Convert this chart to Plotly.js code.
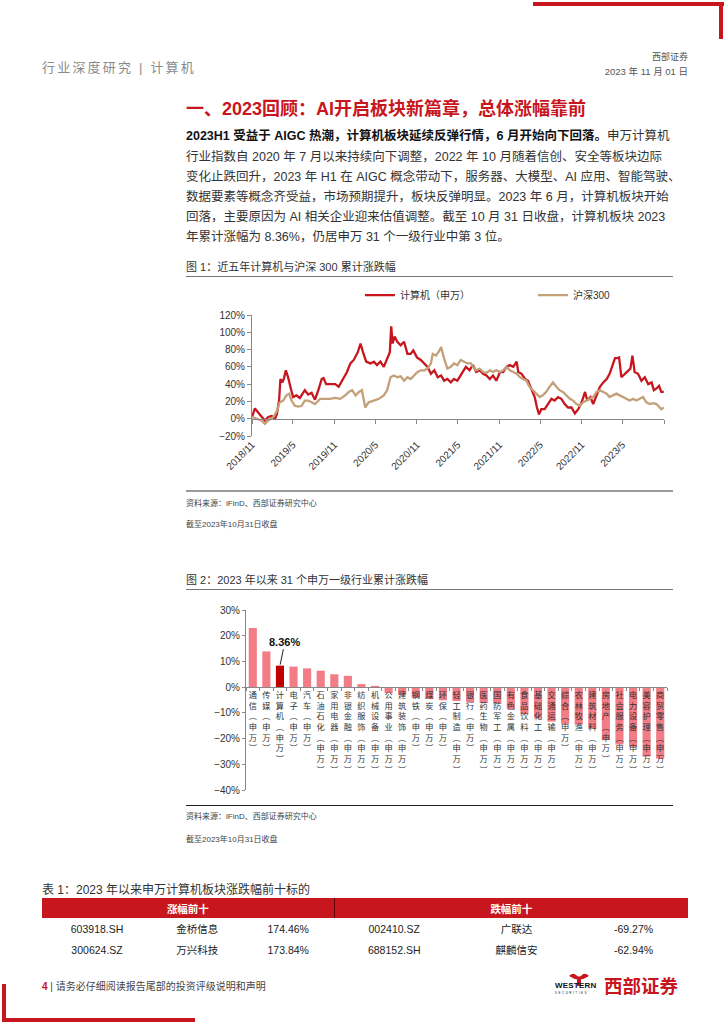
<!DOCTYPE html>
<html><head><meta charset="utf-8">
<script src="https://cdn.plot.ly/plotly-3.0.1.min.js"></script>
<style>
body{margin:0;background:#fff;}
#page{position:relative;width:724px;height:1024px;overflow:hidden;font-family:"Liberation Sans","Noto Sans CJK SC",sans-serif;color:#222;}
.abs{position:absolute;white-space:nowrap;}
.pl{position:absolute;left:186px;width:476px;height:20px;line-height:20px;font-size:12.5px;color:#333;text-align:justify;text-align-last:justify;white-space:nowrap;}
.src{position:absolute;left:186px;font-size:8px;color:#444;white-space:nowrap;}
.cap{position:absolute;left:186px;font-size:11px;color:#333;white-space:nowrap;}
table{border-collapse:collapse;}
</style></head><body><div id="page">

<div class="abs" style="left:533px;top:2px;width:191px;height:4px;background:#C8161E"></div>
<div class="abs" style="left:719px;top:2px;width:4px;height:37px;background:#C8161E"></div>
<div class="abs" style="left:42px;top:57px;font-size:13px;color:#8a8a8a;letter-spacing:2.2px">行业深度研究 | 计算机</div>
<div class="abs" style="right:36px;top:50px;font-size:9px;color:#555">西部证券</div>
<div class="abs" style="right:36px;top:64px;font-size:9.5px;color:#555">2023 年 11 月 01 日</div>

<div class="abs" style="left:186px;top:94px;font-size:18px;font-weight:bold;color:#C8161E">一、2023回顾：AI开启板块新篇章，总体涨幅靠前</div>

<div class="pl" style="top:126px"><b style="color:#111">2023H1 受益于 AIGC 热潮，计算机板块延续反弹行情，6 月开始向下回落。</b>申万计算机</div>
<div class="pl" style="top:147px">行业指数自 2020 年 7 月以来持续向下调整，2022 年 10 月随着信创、安全等板块边际</div>
<div class="pl" style="top:167px">变化止跌回升，2023 年 H1 在 AIGC 概念带动下，服务器、大模型、AI 应用、智能驾驶、</div>
<div class="pl" style="top:187px">数据要素等概念齐受益，市场预期提升，板块反弹明显。2023 年 6 月，计算机板块开始</div>
<div class="pl" style="top:207px">回落，主要原因为 AI 相关企业迎来估值调整。截至 10 月 31 日收盘，计算机板块 2023</div>
<div class="pl" style="top:227px;text-align-last:left">年累计涨幅为 8.36%，仍居申万 31 个一级行业中第 3 位。</div>

<div class="cap" style="top:258px">图 1：近五年计算机与沪深 300 累计涨跌幅</div>
<div class="abs" style="left:186px;top:276px;width:487px;height:1px;background:#777"></div>
<div id="chart1" class="abs" style="left:0;top:280px;width:724px;height:200px"></div>
<div class="abs" style="left:186px;top:490px;width:487px;height:2px;background:#9a9a9a"></div>
<div class="src" style="top:497px">资料来源：iFinD、西部证券研究中心</div>
<div class="src" style="top:518px">截至2023年10月31日收盘</div>

<div class="cap" style="top:571px">图 2：2023 年以来 31 个申万一级行业累计涨跌幅</div>
<div class="abs" style="left:186px;top:589px;width:487px;height:1px;background:#777"></div>
<div id="chart2" class="abs" style="left:0;top:595px;width:724px;height:210px"></div>
<div class="abs" style="left:186px;top:805px;width:487px;height:1px;background:#222"></div>
<div class="src" style="top:810px">资料来源：iFinD、西部证券研究中心</div>
<div class="src" style="top:833px">截至2023年10月31日收盘</div>

<div class="abs" style="left:42px;top:880px;font-size:12px;color:#333">表 1：2023 年以来申万计算机板块涨跌幅前十标的</div>
<div id="tbl" class="abs" style="left:42px;top:898px;width:646px"></div>

<div class="abs" style="left:42px;top:978px;font-size:10px;color:#444"><b style="color:#C8161E">4</b> | 请务必仔细阅读报告尾部的投资评级说明和声明</div>
<div class="abs" style="left:555px;top:970px;width:50px;height:26px">
  <svg width="50" height="26" viewBox="0 0 50 26"><path d="M14 6 Q24 13 34 6 Q30 2 27 5 Q24 8 21 5 Q18 2 14 6 Z" fill="#C8161E"/><rect x="22" y="9" width="4" height="7" fill="#C8161E"/></svg>
</div>
<div class="abs" style="left:555px;top:981px;font-size:8px;font-weight:bold;color:#111;letter-spacing:0.2px">WESTERN</div>
<div class="abs" style="left:555px;top:991px;font-size:3px;color:#111;letter-spacing:1.5px">SECURITIES</div>
<div class="abs" style="left:604px;top:972px;font-size:18.5px;font-weight:bold;color:#C8161E">西部证券</div>

<div class="abs" style="left:2px;top:984px;width:4px;height:38px;background:#C8161E"></div>
<div class="abs" style="left:2px;top:1018px;width:193px;height:4px;background:#C8161E"></div>
</div>
<script>
// ---------- Figure 1 data ----------
const csName = '计算机（申万）';
const hsName = '沪深300';
const csDates = [
'2018-11-01','2018-11-14','2018-11-29','2018-12-13','2018-12-28','2019-01-12','2019-01-27','2019-02-11','2019-02-19','2019-03-01',
'2019-03-07','2019-03-16','2019-03-23','2019-03-31','2019-04-10','2019-04-21','2019-05-02','2019-05-17','2019-06-01','2019-06-23',
'2019-07-08','2019-07-23','2019-08-07','2019-08-22','2019-09-06','2019-09-14','2019-09-26','2019-10-13','2019-11-05','2019-11-20',
'2019-12-04','2019-12-27','2020-01-11','2020-01-26','2020-02-13','2020-02-25','2020-03-07','2020-03-21','2020-04-09','2020-04-24',
'2020-05-08','2020-05-23','2020-06-07','2020-06-22','2020-07-04','2020-07-10','2020-07-16','2020-07-25','2020-08-06','2020-08-21',
'2020-09-05','2020-09-20','2020-10-04','2020-10-16','2020-11-01','2020-11-18','2020-12-03','2020-12-18','2021-01-02','2021-01-17',
'2021-02-01','2021-02-16','2021-03-01','2021-03-16','2021-03-31','2021-04-14','2021-04-29','2021-05-14','2021-06-06','2021-06-22',
'2021-07-07','2021-07-22','2021-08-06','2021-08-21','2021-09-05','2021-09-20','2021-10-04','2021-10-19','2021-11-04','2021-11-18',
'2021-12-03','2021-12-18','2022-01-02','2022-01-17','2022-01-24','2022-02-08','2022-02-23','2022-03-08','2022-03-22','2022-04-07',
'2022-04-17','2022-04-26','2022-05-06','2022-05-21','2022-06-05','2022-06-20','2022-07-04','2022-07-19','2022-08-03','2022-08-18',
'2022-09-02','2022-09-17','2022-10-02','2022-10-17','2022-11-01','2022-11-16','2022-11-26','2022-12-10','2022-12-22','2023-01-06',
'2023-01-21','2023-02-05','2023-02-20','2023-03-05','2023-03-17','2023-03-29','2023-04-07','2023-04-16','2023-04-26','2023-05-11',
'2023-05-25','2023-06-05','2023-06-14','2023-06-24','2023-07-09','2023-07-24','2023-08-08','2023-08-23','2023-09-07','2023-09-17',
'2023-09-29','2023-10-10','2023-10-20','2023-10-31'];
const csValues = [
2,12,7,3,-2,2,3,0,5,21,
46,42,47,56,48,36,25,27,24,33,
28,30,22,33,46,47,40,40,40,37,
44,54,64,68,77,87,77,66,64,66,
62,66,60,70,77,107,87,95,89,85,
89,75,75,79,71,68,64,60,52,56,
48,50,44,46,42,46,44,50,60,56,
62,54,56,52,50,46,50,44,54,54,
60,62,60,66,54,52,46,44,35,25,
13,5,11,11,17,23,21,25,23,17,
13,13,6,11,19,31,21,25,17,27,
37,42,46,52,60,70,70,71,48,52,
56,58,73,54,52,44,48,40,42,33,
35,38,31,31];
const hsDates = [
'2018-11-01','2018-11-21','2018-12-13','2018-12-28','2019-01-12','2019-02-04','2019-02-19','2019-03-04','2019-03-19','2019-04-03',
'2019-04-15','2019-04-25','2019-05-10','2019-05-25','2019-06-09','2019-06-23','2019-07-08','2019-07-23','2019-08-07','2019-08-30',
'2019-09-21','2019-10-13','2019-11-05','2019-11-27','2019-12-19','2020-01-04','2020-01-19','2020-02-03','2020-02-18','2020-03-02',
'2020-03-17','2020-04-01','2020-04-24','2020-05-16','2020-06-07','2020-06-22','2020-07-07','2020-07-22','2020-08-06','2020-08-21',
'2020-09-05','2020-09-20','2020-10-04','2020-10-19','2020-11-04','2020-11-18','2020-12-03','2020-12-18','2021-01-02','2021-01-10',
'2021-01-25','2021-02-09','2021-02-16','2021-03-01','2021-03-16','2021-03-31','2021-04-14','2021-04-29','2021-05-14','2021-05-29',
'2021-06-13','2021-06-28','2021-07-07','2021-07-22','2021-08-06','2021-08-21','2021-09-05','2021-09-20','2021-10-04','2021-10-19',
'2021-11-04','2021-11-18','2021-12-03','2021-12-18','2022-01-02','2022-01-17','2022-02-01','2022-02-15','2022-03-01','2022-03-15',
'2022-03-30','2022-04-14','2022-04-29','2022-05-13','2022-05-28','2022-06-12','2022-06-27','2022-07-12','2022-07-26','2022-08-10',
'2022-08-25','2022-09-10','2022-09-24','2022-10-09','2022-10-24','2022-11-08','2022-11-23','2022-12-07','2022-12-22','2023-01-06',
'2023-01-21','2023-02-05','2023-02-20','2023-03-05','2023-03-20','2023-04-04','2023-04-19','2023-05-03','2023-05-18','2023-06-02',
'2023-06-17','2023-07-01','2023-07-16','2023-07-31','2023-08-15','2023-08-30','2023-09-14','2023-09-29','2023-10-13','2023-10-20',
'2023-10-31'];
const hsValues = [
2,0,-2,-6,-2,2,9,19,21,27,
29,21,15,14,15,21,21,19,17,23,
23,23,24,23,27,31,33,27,31,33,
13,19,21,23,27,33,48,50,48,49,
44,48,46,50,54,56,56,58,64,75,
73,79,83,70,58,60,64,62,68,66,
64,64,60,56,58,54,53,56,54,56,
54,56,60,56,54,52,48,46,44,37,
33,29,25,27,31,37,42,37,33,31,
27,23,21,17,15,19,21,23,25,31,
33,31,29,25,27,29,27,25,23,21,
23,21,23,25,19,17,18,17,13,11,
13];
const xTickVals = ['2018-11-01','2019-05-01','2019-11-01','2020-05-01','2020-11-01','2021-05-01','2021-11-01','2022-05-01','2022-11-01','2023-05-01'];
const xTickText = ['2018/11','2019/5','2019/11','2020/5','2020/11','2021/5','2021/11','2022/5','2022/11','2023/5'];
const xEnd = '2023-11-01';

// ---------- Figure 2 data ----------
const industries = ['通信','传媒','计算机','电子','汽车','石油石化','家用电器','非银金融','纺织服饰','机械设备','公用事业','建筑装饰','钢铁','煤炭','环保','轻工制造','银行','医药生物','国防军工','有色金属','食品饮料','基础化工','交通运输','综合','农林牧渔','建筑材料','房地产','社会服务','电力设备','美容护理','商贸零售'];
const industryReturns = [23.0,13.9,8.36,8.0,7.3,6.4,5.0,4.4,1.2,0.5,-2.3,-2.9,-4.2,-4.6,-5.1,-5.4,-5.8,-6.1,-6.3,-8.5,-10.5,-12.2,-13.4,-14.3,-14.6,-16.0,-20.6,-22.3,-23.2,-27.0,-27.8];
const industrySuffix = '(申万)';
const highlightIndustry = '计算机';
const highlightLabel = '8.36%';

// ---------- Table data ----------
const tblHeaders = ['涨幅前十','跌幅前十'];
const gainCodes = ['603918.SH','300624.SZ'];
const gainNames = ['金桥信息','万兴科技'];
const gainPcts = ['174.46%','173.84%'];
const lossCodes = ['002410.SZ','688152.SH'];
const lossNames = ['广联达','麒麟信安'];
const lossPcts = ['-69.27%','-62.94%'];

const RED = '#C8161E', TAN = '#C4A07A';
const baseFont = {family:'Liberation Sans, Noto Sans CJK SC, sans-serif', size:10, color:'#333'};

// Figure 1
const legStyle = {orientation:'h', xanchor:'left', y:1.165, yanchor:'middle', font:{size:10, color:'#333'}, bgcolor:'rgba(0,0,0,0)'};
Plotly.newPlot('chart1', [
  {type:'scatter', mode:'lines', name:csName, x:csDates, y:csValues, xaxis:'x', yaxis:'y', legend:'legend', line:{color:RED, width:2.3}},
  {type:'scatter', mode:'lines', name:hsName, x:hsDates, y:hsValues, xaxis:'x2', yaxis:'y', legend:'legend2', line:{color:TAN, width:2.3}}
], {
  width:724, height:200,
  margin:{l:252, r:60, t:35, b:44, autoexpand:false},
  paper_bgcolor:'rgba(0,0,0,0)', plot_bgcolor:'rgba(0,0,0,0)',
  font:baseFont,
  showlegend:true,
  legend:Object.assign({x:0.262}, legStyle),
  legend2:Object.assign({x:0.682}, legStyle),
  xaxis:{type:'date', range:[xTickVals[0], xEnd], tickvals:xTickVals, ticktext:xTickText, tickangle:-45,
         showline:false, ticks:'', showgrid:false, zeroline:false, tickfont:{size:10, color:'#333'}},
  xaxis2:{type:'date', overlaying:'x', anchor:'free', position:20/140, range:[xTickVals[0], xEnd],
          tickvals:xTickVals.concat([xEnd]), showticklabels:false, ticks:'outside', ticklen:4, tickcolor:'#888',
          showline:true, linecolor:'#888', linewidth:1, showgrid:false, zeroline:false},
  yaxis:{range:[-20,120], dtick:20, ticksuffix:'%', showline:true, linecolor:'#888', linewidth:1,
         ticks:'outside', ticklen:4, tickcolor:'#888', showgrid:false, zeroline:false, tickfont:{size:10, color:'#333'}}
}, {staticPlot:true, displayModeBar:false});

// Figure 2
const vertLabels = industries.map(n => (n + industrySuffix).split('').map(c => c === '(' ? '︵' : (c === ')' ? '︶' : c)).join('<br>'));
const hiIdx = industries.indexOf(highlightIndustry);
Plotly.newPlot('chart2', [{
  type:'bar', x:vertLabels, y:industryReturns,
  marker:{color:industries.map((n,i) => i === hiIdx ? '#C00000' : '#F27D86')},
  hoverinfo:'none'
}], {
  width:724, height:210,
  margin:{l:246, r:57, t:15, b:15, autoexpand:false},
  paper_bgcolor:'rgba(0,0,0,0)', plot_bgcolor:'rgba(0,0,0,0)',
  font:baseFont, showlegend:false, bargap:0.4,
  xaxis:{type:'category', range:[-0.5, industries.length - 0.5], anchor:'free', position:40/70,
         showline:true, linecolor:'#888', linewidth:1, ticks:'outside', tickson:'boundaries', ticklen:3, tickcolor:'#888',
         tickangle:0, showgrid:false, tickfont:{size:8.2, family:'Noto Sans CJK SC', color:'#333'}},
  yaxis:{range:[-40,30], dtick:10, ticksuffix:'%', showline:true, linecolor:'#888', linewidth:1,
         ticks:'outside', ticklen:3, tickcolor:'#888', showgrid:false, zeroline:false, tickfont:{size:10, color:'#333'}},
  annotations:[{x:hiIdx, y:industryReturns[hiIdx], xref:'x', yref:'y', text:'<b>' + highlightLabel + '</b>',
                showarrow:true, arrowhead:0, arrowwidth:1, arrowcolor:'#222', ax:5, ay:-24, standoff:1,
                font:{size:11, color:'#111', family:'Liberation Sans, sans-serif'}}]
}, {staticPlot:true, displayModeBar:false});

// Table
(function(){
  const td = (t, w, align) => '<td style="width:'+w+'px;text-align:'+align+';height:21px;padding:0">'+t+'</td>';
  let h = '<table style="width:646px;font-size:10.5px;color:#222;font-family:Liberation Sans, Noto Sans CJK SC, sans-serif">';
  h += '<tr style="background:'+RED+';color:#fff;font-weight:bold;height:20px">'+
       '<td colspan="3" style="text-align:center;width:292px;border-right:1px solid #5a0000;padding:0">'+tblHeaders[0]+'</td>'+
       '<td colspan="3" style="text-align:center;padding:0">'+tblHeaders[1]+'</td></tr>';
  for (let i = 0; i < gainCodes.length; i++) {
    h += '<tr>' + td(gainCodes[i],110,'center') + td(gainNames[i],90,'center') + td(gainPcts[i],92,'center') +
         td(lossCodes[i],120,'center') + td(lossNames[i],125,'center') + td(lossPcts[i],109,'center') + '</tr>';
  }
  h += '</table>';
  document.getElementById('tbl').innerHTML = h;
})();
</script>
</body></html>
